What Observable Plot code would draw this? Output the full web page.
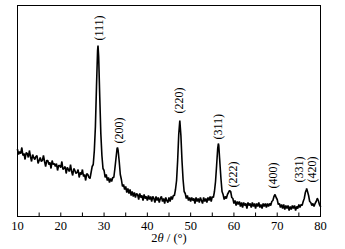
<!DOCTYPE html>
<html>
<head>
<meta charset="utf-8">
<script src="https://cdn.jsdelivr.net/npm/d3@7"></script>
<script src="https://cdn.jsdelivr.net/npm/@observablehq/plot@0.6"></script>
<style>
  html, body { margin: 0; padding: 0; background: #fff; }
  svg { display: block; }
</style>
</head>
<body>
<div id="chart"></div>
<script>
// XRD scan: 2θ from 10° to 80° in 0.25° steps, intensity in arbitrary units
const thetaStart = 10;
const thetaStep = 0.25;
const intensity = [
  67,62,65,63,69,61,63,57,64,63,
  59,66,60,55,62,59,57,60,61,53,
  56,59,55,56,61,55,50,56,56,52,
  54,48,56,52,53,50,53,46,51,51,
  49,55,47,48,50,43,49,47,45,52,
  45,41,48,46,43,44,47,39,44,42,
  47,40,42,36,43,42,39,38,
  44,50,52,66,90,130,166,160,120,83,
  61,48,46,39,42,36,39,34,38,35,
  39,39,48,58,68,66,55,42,37,30,
  32,27,30,24,28,23,27,21,25,20,
  24,19,23,22,17,23,19,21,16,22,
  18,20,16,21,17,20,15,20,18,14,
  20,16,19,14,18,20,15,18,13,19,
  16,14,19,15,20,17,21,21,27,36,
  56,82,96,81,56,37,25,23,18,21,
  16,19,15,19,16,18,13,19,15,18,
  14,19,16,13,19,15,18,14,19,16,
  20,15,20,19,25,35,51,68,71,54,
  38,25,22,17,20,18,22,24,26,25,
  19,18,13,16,11,15,12,15,10,14,
  9,14,11,13,8,14,11,13,9,14,
  10,13,8,13,10,14,9,12,8,13,
  10,13,9,13,10,13,11,15,16,20,
  22,19,17,12,13,9,12,8,12,7,
  11,8,11,6,10,7,11,8,11,6,
  10,8,12,9,12,11,15,18,24,27,
  25,21,15,14,11,13,10,13,15,18,
  16,12,10
];

// Peaks (apex positions and heights) and their Miller-index labels
const peakHkl   = ["(111)", "(200)", "(220)", "(311)", "(222)", "(400)", "(331)", "(420)"];
const peakTheta = [28.6, 33.1, 47.5, 56.4, 59.0, 69.5, 76.8, 79.3];
const peakTop   = [171, 69, 96, 73, 26, 22, 28, 18];
const labelTheta = [28.95, 33.4, 47.3, 56.3, 59.8, 69.0, 75.0, 78.0];
const labelBase  = [176, 73, 103, 77, 29, 28, 34, 34];

const xTicks = [10, 20, 30, 40, 50, 60, 70, 80];
const xMinorTicks = [15, 25, 35, 45, 55, 65, 75];
const xDomain = [10, 80];
const yDomain = [0, 211];

// build table
const scan = intensity.map((v, i) => ({theta: thetaStart + i * thetaStep, I: v}))
  .concat(peakTheta.map((t, i) => ({theta: t, I: peakTop[i]})))
  .sort((a, b) => a.theta - b.theta);
const labels = peakHkl.map((h, i) => ({hkl: h, theta: labelTheta[i], base: labelBase[i]}));

const W = 345, H = 249;
const mTop = 5, mBottom = 33, mLeft = 17, mRight = 25;
const plotH = H - mTop - mBottom;
const serif = "'Liberation Serif', 'Times New Roman', Times, serif";

const chart = Plot.plot({
  width: W,
  height: H,
  marginTop: mTop,
  marginBottom: mBottom,
  marginLeft: mLeft,
  marginRight: mRight,
  style: {fontFamily: serif, fontSize: "12px", color: "#000", background: "#fff"},
  x: {domain: xDomain},
  y: {domain: yDomain, axis: null},
  marks: [
    Plot.line(scan, {x: "theta", y: "I", stroke: "#000", strokeWidth: 1.6, strokeLinejoin: "miter"}),
    Plot.tickX(xTicks.concat(xMinorTicks), {x: d => d, stroke: "#000", strokeWidth: 1, insetTop: plotH - 3.5}),
    Plot.frame({stroke: "#000", strokeWidth: 1}),
    Plot.axisX({ticks: xTicks, tickSize: 0, tickPadding: 5, fontSize: 12.5, fontFamily: serif,
                label: "2θ / (°)", labelAnchor: "center", labelOffset: 25, labelArrow: "none"}),
    Plot.text(labels, {x: "theta", y: "base", text: "hkl", rotate: -90, textAnchor: "start",
                       fontSize: 12, fontFamily: serif, fill: "#000"})
  ]
});
document.getElementById("chart").appendChild(chart);

// italic θ in the axis title
const lab = d3.select(chart).select('[aria-label="x-axis label"] text');
if (!lab.empty()) {
  lab.text(null);
  lab.append("tspan").text("2");
  lab.append("tspan").attr("font-style", "italic").text("θ");
  lab.append("tspan").text(" / (°)");
}
</script>
</body>
</html>
